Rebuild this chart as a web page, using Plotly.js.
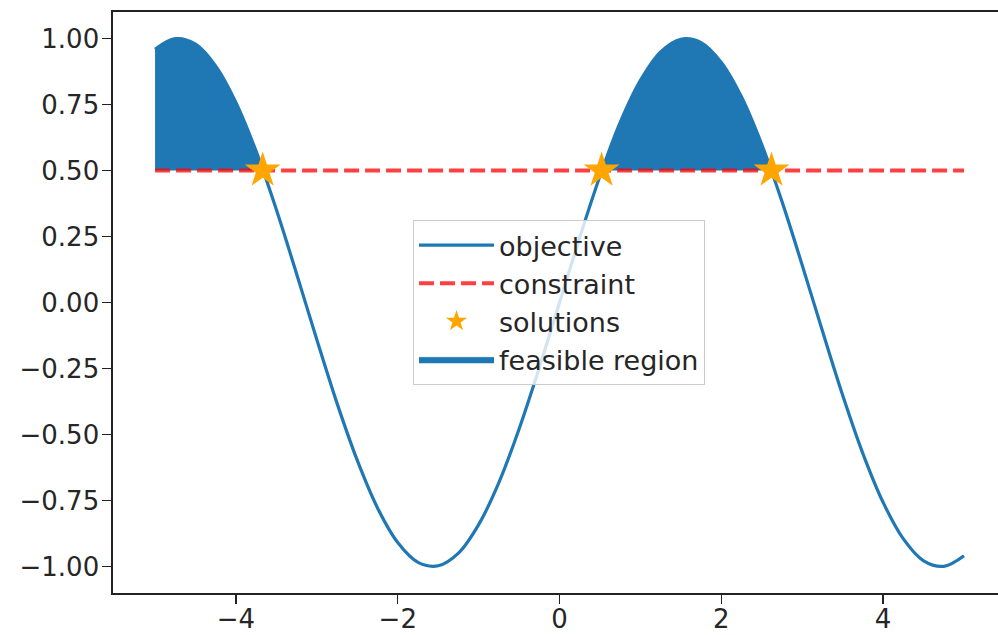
<!DOCTYPE html>
<html>
<head>
<meta charset="utf-8">
<script src="https://cdn.plot.ly/plotly-3.0.1.min.js"></script>
<style>
html, body { margin: 0; padding: 0; overflow: hidden; background: #fff; }
#chart { width: 998px; height: 635px; }
</style>
</head>
<body>
<div id="chart"></div>
<script>
// Objective curve, values
const objX = [-5, -4.75, -4.5, -4.25, -4, -3.75, -3.5, -3.25, -3, -2.75, -2.5, -2.25, -2, -1.75, -1.5, -1.25, -1, -0.75, -0.5, -0.25,
              0, 0.25, 0.5, 0.75, 1, 1.25, 1.5, 1.75, 2, 2.25, 2.5, 2.75, 3, 3.25, 3.5, 3.75, 4, 4.25, 4.5, 4.75, 5];
const objY = [0.959, 0.999, 0.978, 0.895, 0.757, 0.572, 0.351, 0.108, -0.141, -0.382, -0.598, -0.778, -0.909, -0.984, -0.997, -0.949, -0.841, -0.682, -0.479, -0.247,
              0.000, 0.247, 0.479, 0.682, 0.841, 0.949, 0.997, 0.984, 0.909, 0.778, 0.598, 0.382, 0.141, -0.108, -0.351, -0.572, -0.757, -0.895, -0.978, -0.999, -0.959];

// Constraint line
const conX = [-5, 5];
const conY = [0.5, 0.5];
const conLevel = 0.5;

// Solutions (stars)
const solX = [-3.67, 0.52, 2.62];
const solY = [0.5, 0.5, 0.5];

// Feasible region intervals (start, end)
const regions = [[-5, -3.67], [0.52, 2.62]];

// Tick labels
const xTicks = [-4, -2, 0, 2, 4];
const yTicks = [-1, -0.75, -0.5, -0.25, 0, 0.25, 0.5, 0.75, 1];

const blue = '#1f77b4';
const traces = [];

regions.forEach((r, i) => {
  const xs = [], ys = [];
  objX.forEach((x, k) => {
    if (x >= r[0] && x <= r[1] && objY[k] >= conLevel) { xs.push(x); ys.push(objY[k]); }
  });
  if (xs[0] !== r[0]) { xs.unshift(r[0]); ys.unshift(conLevel); }
  if (xs[xs.length - 1] !== r[1]) { xs.push(r[1]); ys.push(conLevel); }
  traces.push({
    x: [r[0], r[1]], y: [conLevel, conLevel], mode: 'lines',
    line: {width: 0, color: blue}, showlegend: false, hoverinfo: 'skip'
  });
  traces.push({
    x: xs, y: ys, mode: 'lines', fill: 'tonexty', fillcolor: blue,
    line: {width: 0.5, color: blue, shape: 'spline'},
    name: 'feasible region', showlegend: i === 0, legendrank: 4
  });
});

traces.push({
  x: objX, y: objY, mode: 'lines', name: 'objective',
  line: {color: blue, width: 3.2, shape: 'spline', smoothing: 1}, legendrank: 1
});
traces.push({
  x: conX, y: conY, mode: 'lines', name: 'constraint',
  line: {color: 'rgba(255,0,0,0.75)', width: 4, dash: '15px,6px'}, legendrank: 2
});
traces.push({
  x: solX, y: solY, mode: 'markers', name: 'solutions',
  marker: {symbol: 'star', size: 27, color: '#FFA500', line: {width: 0}}, legendrank: 3
});

const axisCommon = {
  showgrid: false, zeroline: false, showline: true,
  linecolor: '#222', linewidth: 1.6,
  ticks: 'outside', ticklen: 9, tickwidth: 1.4, tickcolor: '#222',
  tickfont: {family: 'DejaVu Sans', size: 26, color: '#262626'}
};

const layout = {
  width: 998, height: 635,
  margin: {l: 113, r: 0, t: 12, b: 42},
  paper_bgcolor: '#fff', plot_bgcolor: '#fff',
  font: {family: 'DejaVu Sans', color: '#262626'},
  xaxis: Object.assign({}, axisCommon, {mirror: true, range: [-5.52, 5.42], tickvals: xTicks, ticklabelstandoff: -7}),
  yaxis: Object.assign({}, axisCommon, {mirror: false, range: [-1.1, 1.1], tickvals: yTicks, tickformat: '.2f', ticklabelstandoff: -2}),
  legend: {
    x: 0.339, y: 0.642, xanchor: 'left', yanchor: 'top',
    bgcolor: 'rgba(255,255,255,0.8)', bordercolor: '#cccccc', borderwidth: 1,
    font: {family: 'DejaVu Sans', size: 27, color: '#262626'},
    itemwidth: 75,
    traceorder: 'normal'
  },
  showlegend: true
};

Plotly.newPlot('chart', traces, layout, {displayModeBar: false, staticPlot: true});
</script>
</body>
</html>
